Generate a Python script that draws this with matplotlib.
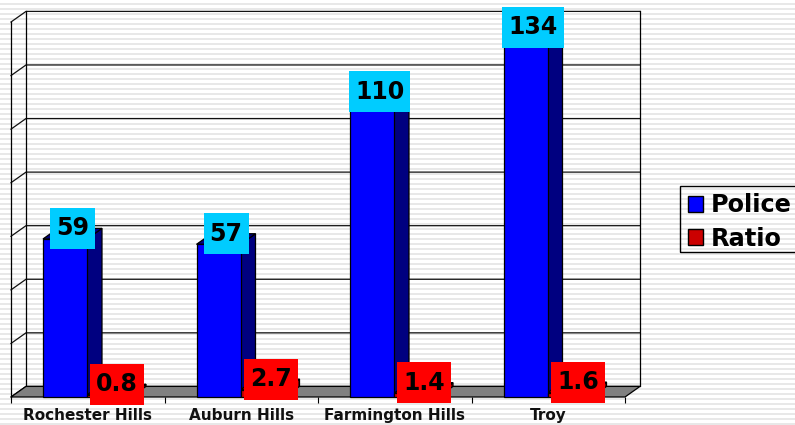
import numpy as np
import matplotlib
matplotlib.use("Agg")
import matplotlib.pyplot as plt
from matplotlib.patches import Patch, Rectangle
from matplotlib.path import Path

categories = ["Rochester Hills", "Auburn Hills", "Farmington Hills", "Troy"]
police = [59, 57, 110, 134]
ratio = [0.8, 2.7, 1.4, 1.6]
police_labels = ["59", "57", "110", "134"]
ratio_labels = ["0.8", "2.7", "1.4", "1.6"]

W, H = 795, 425
DPI = 100
fig = plt.figure(figsize=(W / DPI, H / DPI), dpi=DPI, facecolor="white")

# striped slide background
bg = fig.add_axes([0, 0, 1, 1], zorder=0)
stripe = np.ones((H, 1))
stripe[np.arange(H) % 5 >= 3] = 0.91
bg.imshow(stripe, cmap="gray", vmin=0, vmax=1, aspect="auto", interpolation="nearest")
bg.axis("off")

ax = fig.add_axes([11 / W, (H - 397) / H, 614 / W, 375 / H], zorder=1)
ax.patch.set_alpha(0)
ax.set_xlim(0, 4)
ax.set_ylim(0, 140)
for s in ax.spines.values():
    s.set_visible(False)

DX = 15 / 153.5   # depth of the 3D box in category units
DY = 10.6 / (375 / 140)  # depth in value units
BW = 44 / 153.5
GAP = 32 / 153.5
LW = 0.9

# floor
ax.fill([0, 4, 4 + DX, DX], [0, 0, DY, DY], facecolor="#808080", edgecolor="black", lw=LW, clip_on=False, zorder=2)

# walls and grid
for v in range(0, 141, 20):
    ax.plot([0, DX, 4 + DX], [v, v + DY, v + DY], color="#111111", lw=LW, clip_on=False, zorder=1)
ax.plot([0, 0], [0, 140], color="black", lw=LW, clip_on=False, zorder=1)
ax.plot([DX, DX], [DY, 140 + DY], color="black", lw=LW, clip_on=False, zorder=1)
ax.plot([4 + DX, 4 + DX], [DY, 140 + DY], color="black", lw=LW, clip_on=False, zorder=1)


def box3d(x, v, front, dark):
    ax.bar(x, v, BW, align="edge", color=front, edgecolor="black", lw=LW, clip_on=False, zorder=4)
    ax.fill([x + BW, x + BW + DX, x + BW + DX, x + BW], [0, DY, v + DY, v], facecolor=dark, edgecolor="black", lw=LW, clip_on=False, zorder=3)
    ax.fill([x, x + DX, x + BW + DX, x + BW], [v, v + DY, v + DY, v], facecolor=dark, edgecolor="black", lw=LW, clip_on=False, zorder=3)


def label_box(x0, y0, width, height, mutation_size):
    # fixed 41 px tall box, 6 px side padding, around the text
    cy = y0 + height / 2
    l, r = x0 - 6, x0 + width + 6
    b, t = cy - 20.5, cy + 20.5
    return Path([(l, b), (r, b), (r, t), (l, t), (l, b)], closed=True)


for i in range(4):
    px = i + GAP
    rx = px + BW
    box3d(px, police[i], "#0000FF", "#000080")
    box3d(rx, ratio[i], "#CC0000", "#800000")

for i in range(4):
    px = i + GAP
    rx = px + BW
    ax.text(px + (BW + DX) / 2, police[i] + DY, police_labels[i], ha="center", va="center",
            fontsize=17, fontweight="bold", color="black", zorder=6, clip_on=False,
            bbox=dict(boxstyle=label_box, facecolor="#00CCFF", edgecolor="none"))
    ax.text(rx + (BW + DX) / 2 + 0.005, ratio[i] + DY, ratio_labels[i], ha="center", va="center",
            fontsize=17, fontweight="bold", color="black", zorder=6, clip_on=False,
            bbox=dict(boxstyle=label_box, facecolor="#FF0000", edgecolor="none"))

ax.set_yticks([])
ax.set_xticks(np.arange(4) + 0.5)
ax.set_xticklabels(categories, fontsize=11, fontweight="bold", color="#111111")
ax.tick_params(axis="x", which="major", length=0, pad=8)
ax.set_xticks(np.arange(5), minor=True)
ax.tick_params(axis="x", which="minor", length=4, width=0.8, color="black")

handles = [Patch(facecolor="#0000FF", edgecolor="black", lw=1, label="Police"),
           Patch(facecolor="#CC0000", edgecolor="black", lw=1, label="Ratio")]
leg = fig.legend(handles=handles, loc="center left", bbox_to_anchor=(680 / W, (H - 222) / H),
                 prop=dict(size=17.3, weight="bold"), frameon=False,
                 handlelength=0.62, handleheight=0.62, handletextpad=0.33,
                 borderpad=0.33, labelspacing=0.38, borderaxespad=0)
leg.set_zorder(5)
fig.add_artist(Rectangle((680 / W, (H - 252) / H), 130 / W, 66 / H, transform=fig.transFigure,
                         facecolor="none", edgecolor="black", lw=1, zorder=5))

fig.savefig("out.png", dpi=DPI)
